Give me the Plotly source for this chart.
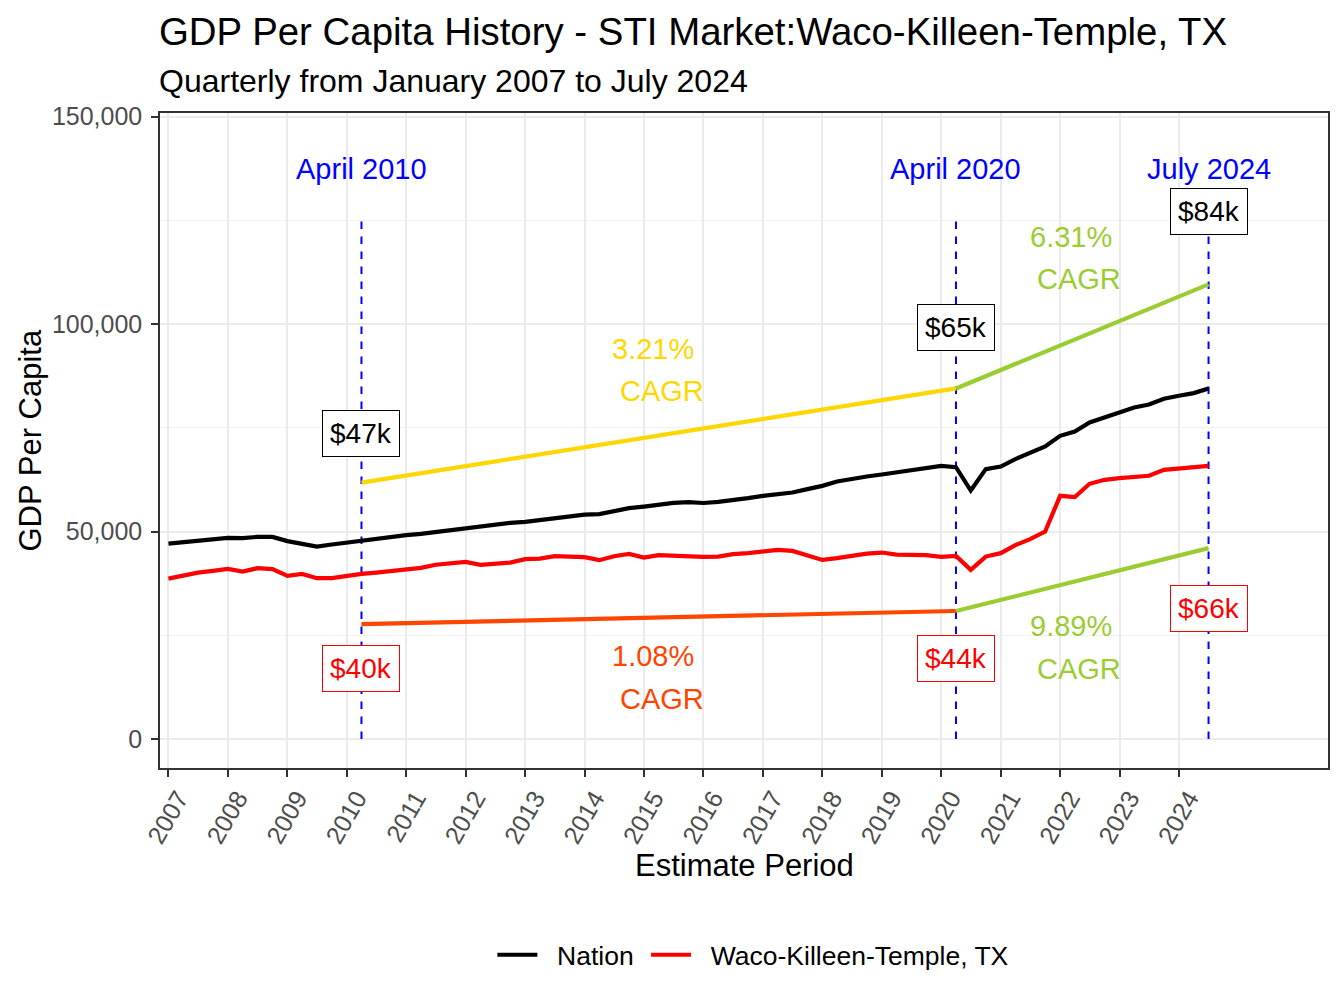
import pandas as pd
import plotly.graph_objects as go

# quarterly periods, Jan 2007 .. Jul 2024
periods = pd.date_range("2007-01-01", "2024-07-01", freq="QS")

nation = [47100, 47450, 47830, 48170, 48480, 48410, 48720, 48720,
          47690, 47030, 46380, 46870, 47350, 47590, 48310, 48720,
          49130, 49460, 49900, 50340, 50890, 51380, 51790, 52100,
          52340, 52750, 53060, 53550, 54100, 54200, 55000, 55640,
          56030, 56510, 56920, 57100, 56880, 57150, 57480, 58060,
          58610, 59020, 59410, 60230, 61020, 62060, 62710, 63270,
          63750, 64230, 64810, 65370, 65850, 65530, 59890, 65050,
          65680, 67460, 69060, 70500, 73080, 74120, 76290, 77590,
          78800, 79910, 80630, 82010, 82730, 83380, 84490]

waco = [38660, 39320, 40110, 40520, 41000, 40350, 41170, 40930,
        39320, 39800, 38760, 38760, 39390, 39800, 40110, 40520,
        41080, 41250, 42000, 42380, 42690, 41970, 42210, 42520,
        43340, 43490, 44060, 44060, 43820, 43100, 44060, 44620,
        43730, 44310, 44140, 43820, 43900, 43970, 44550, 44790,
        45180, 45590, 45340, 44140, 43170, 43580, 44210, 44690,
        44940, 44450, 44380, 44310, 43900, 44140, 40760, 43970,
        44790, 46720, 48170, 50000, 58610, 58300, 61510, 62470,
        62880, 63270, 63440, 64880, 65200, 65440, 65850]

# marker dates and CAGR trend segments
mark_dates = ["2010-04-01", "2020-04-01", "2024-07-01"]
mark_names = ["April 2010", "April 2020", "July 2024"]
nation_labels = ["$47k", "$65k", "$84k"]
waco_labels = ["$40k", "$44k", "$66k"]

nation_cagr_1 = [61800, 84500]
nation_cagr_2 = [84500, 109600]
waco_cagr_1 = [27700, 30850]
waco_cagr_2 = [30850, 46000]
cagr_text = ["3.21%", "6.31%", "1.08%", "9.89%"]

year_ticks = [f"{y}-01-01" for y in range(2007, 2025)]
year_text = [str(y) for y in range(2007, 2025)]

FONT = "Liberation Sans, Arial, sans-serif"
NB = "\u00a0"

fig = go.Figure()

for d in mark_dates:
    fig.add_trace(go.Scatter(x=[d, d], y=[0, 125000], mode="lines",
                             line=dict(color="blue", width=2, dash="7.5px,7.5px"),
                             showlegend=False, hoverinfo="skip"))

fig.add_trace(go.Scatter(x=periods, y=nation, mode="lines",
                         name=NB * 2 + "Nation" + NB,
                         line=dict(color="black", width=4.2)))
fig.add_trace(go.Scatter(x=periods, y=waco, mode="lines",
                         name=NB * 2 + "Waco-Killeen-Temple, TX",
                         line=dict(color="red", width=4.2)))

segs = [(mark_dates[0:2], nation_cagr_1, "#FFD700"),
        (mark_dates[1:3], nation_cagr_2, "#9ACD32"),
        (mark_dates[0:2], waco_cagr_1, "#FF4500"),
        (mark_dates[1:3], waco_cagr_2, "#9ACD32")]
for xs, ys, col in segs:
    fig.add_trace(go.Scatter(x=xs, y=ys, mode="lines", showlegend=False,
                             line=dict(color=col, width=4.2), hoverinfo="skip"))

ann = []
for d, t in zip(mark_dates, mark_names):
    ann.append(dict(x=d, y=137400, text=t, showarrow=False,
                    font=dict(color="blue", size=29)))

nat_y = [73700, 99300, 127200]
waco_y = [16900, 19300, 31500]
for d, t, yy in zip(mark_dates, nation_labels, nat_y):
    ann.append(dict(x=d, y=yy, text=t, showarrow=False, bgcolor="white",
                    bordercolor="black", borderwidth=1, borderpad=7,
                    font=dict(color="black", size=28)))
for d, t, yy in zip(mark_dates, waco_labels, waco_y):
    ann.append(dict(x=d, y=yy, text=t, showarrow=False, bgcolor="white",
                    bordercolor="red", borderwidth=1, borderpad=7,
                    font=dict(color="red", size=28)))

cagr_pos = [("2015-02-27", "2015-04-20", 94000, 83900, "#FFD700"),
            ("2022-03-07", "2022-04-27", 121000, 110900, "#9ACD32"),
            ("2015-02-27", "2015-04-20", 20050, 9640, "#FF4500"),
            ("2022-03-07", "2022-04-27", 27280, 16870, "#9ACD32")]
for t, (x1, x2, y1, y2, col) in zip(cagr_text, cagr_pos):
    ann.append(dict(x=x1, y=y1, text=t, showarrow=False,
                    font=dict(color=col, size=29)))
    ann.append(dict(x=x2, y=y2, text="CAGR", showarrow=False,
                    font=dict(color=col, size=29)))

# titles
ann.append(dict(xref="paper", yref="paper", x=0, y=1.1237, xanchor="left",
                yanchor="middle", showarrow=False, xshift=-3,
                text="GDP Per Capita History - STI Market:Waco-Killeen-Temple, TX",
                font=dict(size=38.4, color="black")))
ann.append(dict(xref="paper", yref="paper", x=0, y=1.0489, xanchor="left",
                yanchor="middle", showarrow=False, xshift=-3,
                text="Quarterly from January 2007 to July 2024",
                font=dict(size=32, color="black")))
ann.append(dict(xref="paper", yref="paper", x=0.5, y=-0.1496, xanchor="center",
                yanchor="middle", showarrow=False, text="Estimate Period",
                font=dict(size=31, color="black")))
ann.append(dict(xref="paper", yref="paper", x=-0.1113, y=0.5, xanchor="center",
                yanchor="middle", showarrow=False, text="GDP Per Capita",
                textangle=-90, font=dict(size=31, color="black")))

# page body has an 8px margin, so the figure is shrunk/shifted to match
fig.update_layout(
    width=1336, height=1000,
    margin=dict(l=152, r=16, t=105, b=240),
    paper_bgcolor="white", plot_bgcolor="white",
    font=dict(family=FONT, color="black"),
    annotations=ann,
    legend=dict(orientation="h", x=0.508, xanchor="center", y=-0.2855,
                yanchor="middle", font=dict(size=26.5, color="black"),
                itemwidth=40, tracegroupgap=0),
    showlegend=True,
)

fig.update_xaxes(type="date", range=["2006-11-10", "2026-07-05"],
                 tickvals=year_ticks, ticktext=year_text,
                 tickangle=-60, ticks="outside", ticklen=7, tickwidth=2,
                 tickcolor="#333333", tickfont=dict(size=25, color="#4D4D4D"),
                 ticklabelshift=10, ticklabelstandoff=-3,
                 showgrid=True, gridcolor="#EBEBEB", gridwidth=2.2,
                 showline=True, linecolor="#333333", linewidth=1.5, mirror=True,
                 zeroline=False)
fig.update_yaxes(range=[-7000, 150900], tickvals=[0, 50000, 100000, 150000],
                 tickformat=",", ticks="outside", ticklen=7, tickwidth=2,
                 tickcolor="#333333", tickfont=dict(size=25, color="#4D4D4D"),
                 ticklabelstandoff=4,
                 showgrid=True, gridcolor="#EBEBEB", gridwidth=2.2,
                 minor=dict(tickvals=[25000, 75000, 125000], showgrid=True,
                            gridcolor="#F2F2F2", gridwidth=1.2, ticks=""),
                 showline=True, linecolor="#333333", linewidth=1.5, mirror=True,
                 zeroline=False)

fig.write_html("out.html")
